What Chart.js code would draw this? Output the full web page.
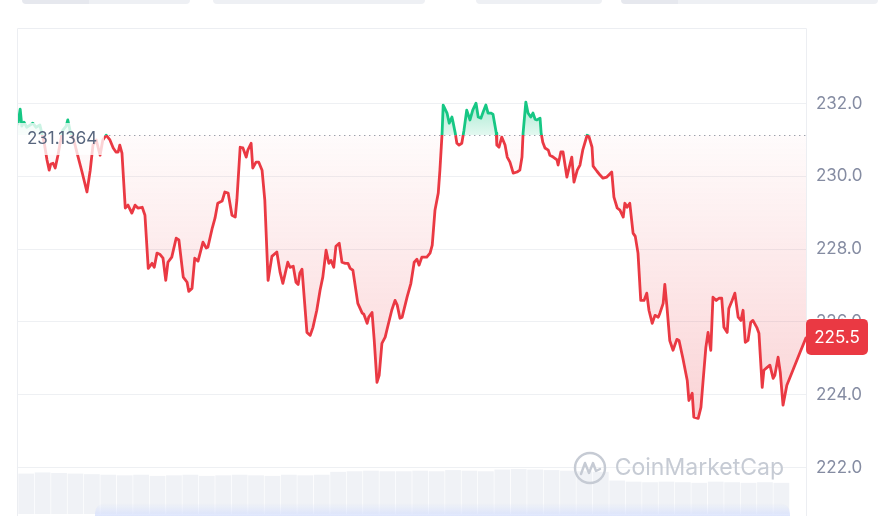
<!DOCTYPE html>
<html><head><meta charset="utf-8">
<script src="https://cdn.jsdelivr.net/npm/chart.js@4.4.1/dist/chart.umd.min.js"></script>
<style>
html,body{margin:0;padding:0;background:#fff;}
#wrap{position:relative;width:878px;height:516px;overflow:hidden;background:#fff;}
canvas{position:absolute;left:0;top:0;}
.tab{position:absolute;top:0;height:4px;background:#eef0f4;border-radius:0 0 8px 8px;}
.shade{position:absolute;left:95px;width:695px;top:503px;height:13px;background:linear-gradient(to bottom, rgba(225,231,250,0) 0%, rgba(216,225,252,0.85) 100%);border-radius:10px 10px 0 0;}
</style></head><body>
<div id="wrap">
<canvas id="c" width="878" height="516"></canvas>
<div class="tab" style="left:22px;width:168px;background:linear-gradient(to right,#e6e8ee 0,#e6e8ee 40%,#eef0f4 40%)"></div>
<div class="tab" style="left:213px;width:212px"></div>
<div class="tab" style="left:476px;width:126px"></div>
<div class="tab" style="left:621px;width:257px;background:linear-gradient(to right,#e6e8ee 0,#e6e8ee 22%,#eef0f4 22%)"></div>
<div class="shade"></div>
</div>
<script>
// ---- data (minutes since start of the 24h window, price in USD) ----
const times = [0,4,7,11,16,22,27,33,40,48,53,57,60,64,68,73,77,82,88,91,95,102,108,117,126,132,137,143,150,155,161,168,174,179,183,186,190,196,201,208,214,219,227,232,238,245,249,254,259,265,270,274,281,289,294,302,309,312,318,323,329,338,344,347,355,360,365,373,378,384,391,397,400,406,411,417,420,426,429,435,440,446,451,457,464,473,479,484,493,497,503,508,512,515,519,528,534,539,546,552,557,563,568,572,577,581,587,592,598,603,607,612,621,629,632,638,641,647,651,656,660,665,671,674,683,689,693,698,702,711,718,724,729,733,738,747,753,757,762,768,771,775,777,784,788,793,795,799,802,806,811,815,820,826,831,837,841,846,850,855,859,864,868,874,875,879,884,890,894,899,905,912,917,921,923,928,932,937,941,945,948,954,956,959,963,969,972,978,985,987,992,996,1003,1007,1012,1016,1022,1027,1032,1040,1043,1049,1051,1058,1064,1069,1076,1085,1089,1095,1100,1106,1109,1113,1118,1124,1128,1133,1138,1144,1149,1153,1159,1164,1170,1173,1179,1182,1186,1191,1197,1204,1208,1215,1223,1226,1232,1235,1243,1248,1252,1257,1261,1266,1270,1276,1281,1286,1290,1296,1299,1305,1310,1316,1321,1325,1329,1334,1339,1343,1350,1354,1360,1363,1369,1374,1380,1383,1389,1393,1398,1405,1416,1429,1440];
const prices = [231.44,231.85,231.38,231.49,231.35,231.41,231.46,231.35,231.41,230.91,230.45,230.17,230.34,230.36,230.23,230.58,230.91,231.27,231.38,231.55,231.27,231.00,230.64,230.12,229.57,230.17,230.86,231.00,230.58,231.00,231.13,231.00,230.78,230.67,230.67,230.86,230.64,229.13,229.21,228.99,229.21,229.13,229.15,228.93,227.47,227.61,227.50,227.89,227.86,227.75,227.14,227.64,227.78,228.30,228.25,227.23,227.09,226.84,226.92,227.75,227.67,228.19,228.03,228.05,228.58,228.85,229.26,229.32,229.57,229.54,228.93,228.88,229.35,230.80,230.78,230.53,230.72,230.91,230.23,230.39,230.39,230.17,229.35,227.14,227.80,227.92,227.36,227.06,227.64,227.50,227.53,227.09,227.03,227.34,227.45,225.71,225.63,225.85,226.32,226.87,227.23,227.97,227.61,227.69,227.50,228.08,228.16,227.64,227.61,227.61,227.47,227.42,226.51,226.24,226.21,225.96,226.13,226.26,225.49,224.34,224.53,225.41,225.58,225.77,226.32,226.59,226.46,226.10,226.13,226.68,227.06,227.64,227.72,227.56,227.78,227.78,227.89,228.11,229.07,229.54,230.17,231.19,231.96,231.74,231.46,231.63,231.49,231.19,230.91,230.86,230.91,231.27,231.82,231.55,231.82,232.01,231.63,231.60,231.77,231.96,231.74,231.74,231.71,231.19,230.86,230.80,231.08,230.86,230.53,230.39,230.09,230.12,230.17,230.53,231.19,232.04,231.74,231.63,231.74,231.57,231.55,231.60,231.19,230.94,230.78,230.72,230.58,230.53,230.45,230.31,230.67,230.67,229.98,230.23,230.53,229.84,230.17,230.31,230.72,231.13,231.11,230.80,230.28,230.14,230.03,229.95,229.98,230.12,229.43,229.13,229.07,228.88,229.26,229.15,229.26,228.44,228.35,227.89,226.59,226.59,226.79,226.32,225.96,226.18,226.13,226.24,226.51,227.03,226.40,225.49,225.22,225.52,225.49,225.00,224.39,223.84,224.04,223.38,223.35,223.65,224.39,225.30,225.71,225.22,226.68,226.59,226.65,226.65,225.85,225.71,226.37,226.59,226.79,226.13,226.04,226.32,225.44,225.49,225.99,226.04,225.85,225.69,224.20,224.67,224.75,224.81,224.45,224.53,225.03,224.61,223.71,224.26,224.67,225.16,225.56];
const baselinePrice = 231.1364;
const tickValues = [222, 224, 226, 228, 230, 232];
// volume (millions), one bar per 30 minutes
const volTimes = [15,45,75,105,135,165,195,225,255,285,315,345,375,405,435,465,495,525,555,585,615,645,675,705,735,765,795,825,855,885,915,945,975,1005,1035,1065,1095,1125,1155,1185,1215,1245,1275,1305,1335,1365,1395];
const volumes = [3.5,3.6,3.55,3.5,3.45,3.4,3.35,3.4,3.3,3.35,3.4,3.3,3.35,3.4,3.35,3.3,3.4,3.35,3.4,3.65,3.7,3.75,3.7,3.7,3.75,3.7,3.8,3.75,3.7,3.85,3.9,3.85,3.8,3.75,3.7,3.65,2.9,2.8,2.75,2.8,2.75,2.7,2.8,2.75,2.7,2.75,2.7];

const RED = '#ea3943', GREEN = '#16c784';
const FONT = 'Inter, "Noto Sans", sans-serif';
const AREA = {left: 18, top: 29, right: 806, bottom: 514};

const linePoints = times.map((t, i) => ({x: t, y: prices[i]}));
const volPoints = volTimes.map((t, i) => ({x: t, y: volumes[i]}));

const overlay = {
  id: 'overlay',
  afterDraw(chart) {
    const ctx = chart.ctx, a = chart.chartArea, y = chart.scales.y;
    const H = chart.height;
    const yb = Math.round(y.getPixelForValue(baselinePrice)) + 0.5;
    ctx.save();
    // frame lines
    ctx.strokeStyle = '#eceef2'; ctx.lineWidth = 1; ctx.setLineDash([]);
    ctx.beginPath();
    ctx.moveTo(Math.round(a.left) - 0.5, H); ctx.lineTo(Math.round(a.left) - 0.5, a.top - 0.5);
    ctx.lineTo(Math.round(a.right) + 0.5, a.top - 0.5); ctx.lineTo(Math.round(a.right) + 0.5, H);
    ctx.stroke();
    // baseline dotted
    const boxW = 86;
    ctx.strokeStyle = '#9aa0aa'; ctx.lineWidth = 1.2; ctx.setLineDash([1.4, 3.6]);
    ctx.beginPath(); ctx.moveTo(a.left + boxW, yb); ctx.lineTo(a.right, yb); ctx.stroke();
    ctx.setLineDash([]);
    // baseline label with translucent background
    const ty = yb + 3.5;
    ctx.fillStyle = 'rgba(255,255,255,0.78)';
    ctx.fillRect(a.left, ty - 16, boxW, 32);
    ctx.fillStyle = '#58667e'; ctx.font = '17px ' + FONT;
    ctx.textAlign = 'left'; ctx.textBaseline = 'middle';
    ctx.fillText(baselinePrice.toString(), a.left + 9, ty);
    // last price tag
    const last = prices[prices.length - 1];
    const yl = y.getPixelForValue(last);
    const bx = a.right, bw = 62, bh = 36, by = yl - 19;
    ctx.fillStyle = RED;
    ctx.beginPath();
    if (ctx.roundRect) ctx.roundRect(bx, by, bw, bh, 5); else ctx.rect(bx, by, bw, bh);
    ctx.fill();
    ctx.fillStyle = '#fff'; ctx.font = '17px ' + FONT; ctx.textAlign = 'center';
    ctx.fillText((Math.floor(last * 10) / 10).toFixed(1), bx + bw / 2, by + bh / 2 + 1);
    // watermark
    const cx = a.right - 216, cy = a.bottom - 46;
    ctx.strokeStyle = 'rgba(195,200,210,0.95)'; ctx.lineWidth = 2.4; ctx.lineJoin = 'round'; ctx.lineCap = 'round';
    ctx.beginPath(); ctx.arc(cx, cy, 15, 0, Math.PI * 2); ctx.stroke();
    ctx.beginPath();
    ctx.moveTo(cx - 9, cy + 6); ctx.lineTo(cx - 5, cy - 5); ctx.lineTo(cx - 1, cy + 5);
    ctx.lineTo(cx + 3, cy - 5); ctx.lineTo(cx + 6, cy + 3); ctx.lineTo(cx + 10, cy + 1);
    ctx.stroke();
    ctx.fillStyle = 'rgba(195,200,210,0.95)'; ctx.font = '23px ' + FONT;
    ctx.textAlign = 'right'; ctx.textBaseline = 'alphabetic';
    ctx.fillText('CoinMarketCap', a.right - 22, a.bottom - 39);
    ctx.restore();
  }
};

const chart = new Chart(document.getElementById('c'), {
  data: {
    datasets: [
      {
        type: 'line', data: linePoints, order: 0,
        borderColor: RED, borderWidth: 2.8, pointRadius: 0, tension: 0,
        borderJoinStyle: 'round', borderCapStyle: 'round',
        fill: {target: {value: baselinePrice}, above: 'rgba(22,199,132,0.25)', below: 'rgba(234,57,67,0.1)'},
        yAxisID: 'y'
      },
      {
        type: 'bar', data: volPoints, order: 1, yAxisID: 'yv',
        backgroundColor: '#f0f2f6', borderWidth: 0,
        barPercentage: 0.96, categoryPercentage: 1
      }
    ]
  },
  options: {
    responsive: false, animation: false, devicePixelRatio: 1,
    layout: {padding: {left: 18, top: 29, right: 0, bottom: 2}},
    plugins: {legend: {display: false}, tooltip: {enabled: false}},
    scales: {
      x: {type: 'linear', min: 0, max: 1440, display: false, offset: false},
      y: {
        type: 'linear', position: 'right', min: 220.72, max: 234.05,
        afterBuildTicks: s => { s.ticks = tickValues.map(v => ({value: v})); },
        afterFit: s => { s.width = 72; s.paddingTop = 0; s.paddingBottom = 0; },
        grid: {color: '#eef0f3', drawTicks: false},
        border: {display: false},
        ticks: {padding: 10, color: '#858ca2', font: {family: FONT, size: 17}, callback: v => Number(v).toFixed(1)}
      },
      yv: {type: 'linear', display: false, min: 0, max: 42}
    }
  },
  plugins: [overlay]
});

(function applyStyles() {
  // correct the layout so that the plot area lands where the reference has it
  const pad = chart.options.layout.padding;
  const a0 = chart.chartArea;
  pad.top += AREA.top - a0.top;
  pad.left += AREA.left - a0.left;
  pad.bottom += a0.bottom - AREA.bottom;
  chart.update('none');

  const ctx = chart.ctx, a = chart.chartArea, y = chart.scales.y;
  const yb = y.getPixelForValue(baselinePrice);
  const t = Math.min(1, Math.max(0, (yb - a.top) / (a.bottom - a.top)));
  const stroke = ctx.createLinearGradient(0, a.top, 0, a.bottom);
  stroke.addColorStop(0, GREEN); stroke.addColorStop(t, GREEN);
  stroke.addColorStop(t, RED); stroke.addColorStop(1, RED);
  const gUp = ctx.createLinearGradient(0, y.getPixelForValue(Math.max(...prices)), 0, yb);
  gUp.addColorStop(0, 'rgba(22,199,132,0.38)'); gUp.addColorStop(1, 'rgba(22,199,132,0.12)');
  const gDn = ctx.createLinearGradient(0, yb, 0, y.getPixelForValue(Math.min(...prices)));
  gDn.addColorStop(0, 'rgba(234,57,67,0.02)'); gDn.addColorStop(1, 'rgba(234,57,67,0.22)');
  const ds = chart.data.datasets[0];
  ds.borderColor = stroke;
  ds.fill = {target: {value: baselinePrice}, above: gUp, below: gDn};
  chart.update('none');
})();
</script>
</body></html>
